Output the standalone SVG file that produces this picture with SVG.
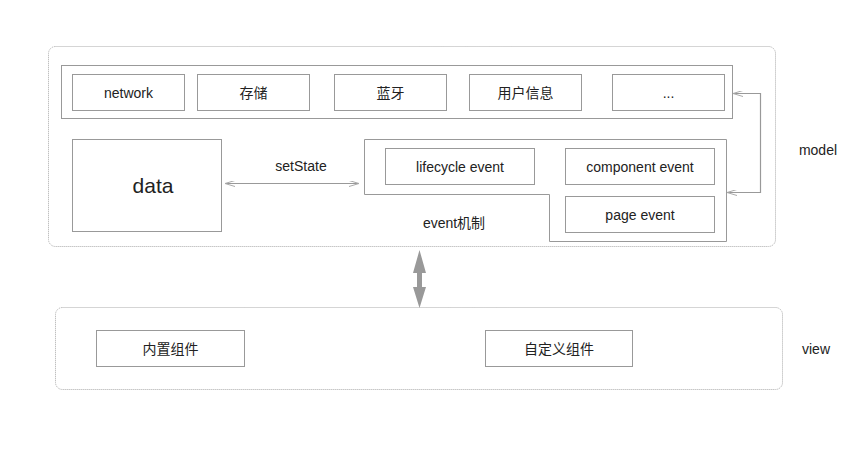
<svg xmlns="http://www.w3.org/2000/svg" width="859" height="460" viewBox="0 0 859 460">
<style>
text{font-family:"Liberation Sans","Noto Sans CJK SC",sans-serif;font-size:14px;fill:#222;text-anchor:middle;dominant-baseline:central}
.box{fill:#fff;stroke:#999;stroke-width:1}
.outer{fill:none;stroke:#aaa;stroke-width:1;stroke-dasharray:1 1}
.conn{fill:none;stroke:#999;stroke-width:1.2}
</style>
<defs>
<marker id="open" viewBox="0 0 10 6" refX="10" refY="3" markerWidth="10" markerHeight="6" markerUnits="userSpaceOnUse" orient="auto-start-reverse">
<path d="M0,0 L10,3 L0,6" fill="none" stroke="#aaa" stroke-width="1"/>
</marker>
</defs>
<rect width="859" height="460" fill="#fff"/>
<g id="model">
<rect class="outer" x="48.5" y="46.5" width="727" height="200" rx="7"/>
<text x="818" y="150">model</text>
</g>
<g id="view">
<rect class="outer" x="55.5" y="307.5" width="727" height="82" rx="7"/>
<text x="816" y="349">view</text>
</g>
<g id="modules">
<rect class="box" x="61.5" y="65.5" width="671" height="53"/>
</g>
<g id="network"><rect class="box" x="72.5" y="74.5" width="112" height="36"/><text x="128.5" y="92.5">network</text></g>
<g id="storage"><rect class="box" x="197.5" y="74.5" width="112" height="36"/><text x="253.5" y="92.5">存储</text></g>
<g id="bluetooth"><rect class="box" x="334.5" y="74.5" width="112" height="36"/><text x="390.5" y="92.5">蓝牙</text></g>
<g id="userinfo"><rect class="box" x="469.5" y="74.5" width="112" height="36"/><text x="525.5" y="92.5">用户信息</text></g>
<g id="more"><rect class="box" x="612.5" y="74.5" width="112" height="36"/><text x="668.5" y="92.5">...</text></g>
<g id="data"><rect class="box" x="72.5" y="139.5" width="149" height="92"/><text x="153" y="185" style="font-size:21px">data</text></g>
<g id="event">
<path class="box" d="M364.5,139.5 H726.5 V241.5 H549.5 V194.5 H364.5 Z"/>
<text x="454" y="222.5">event机制</text>
</g>
<g id="lifecycle"><rect class="box" x="385.5" y="148.5" width="149" height="36"/><text x="460" y="166.5">lifecycle event</text></g>
<g id="component"><rect class="box" x="565.5" y="148.5" width="149" height="36"/><text x="640" y="166.5">component event</text></g>
<g id="page"><rect class="box" x="565.5" y="196.5" width="149" height="36"/><text x="640" y="214.5">page event</text></g>
<g id="builtin"><rect class="box" x="96.5" y="330.5" width="148" height="36"/><text x="170.5" y="349">内置组件</text></g>
<g id="custom"><rect class="box" x="485.5" y="330.5" width="147" height="36"/><text x="559" y="349">自定义组件</text></g>
<g id="connectors">
<line class="conn" x1="225" y1="183.5" x2="359" y2="183.5" marker-start="url(#open)" marker-end="url(#open)"/>
<text x="301" y="166">setState</text>
<polyline class="conn" points="733,93.5 760.5,93.5 760.5,192.5 727,192.5" marker-start="url(#open)" marker-end="url(#open)"/>
<path d="M419.5,250 L426,273 L422,273 L422,287 L426,287 L419.5,308 L413,287 L417,287 L417,273 L413,273 Z" fill="#999"/>
</g>
</svg>
